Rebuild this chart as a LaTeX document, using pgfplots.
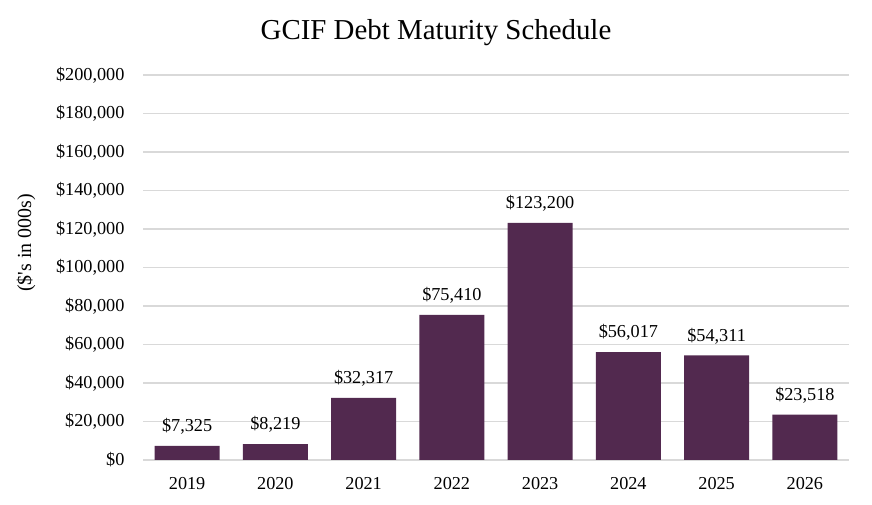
\documentclass[border=0pt]{standalone}
\usepackage{fontspec}
\setmainfont{Liberation Serif}
\usepackage{pgfplots}
\pgfplotsset{compat=1.18}
\definecolor{barc}{RGB}{82,41,79}
\definecolor{gridc}{RGB}{217,217,217}
\begin{document}
\begin{tikzpicture}
\path[use as bounding box] (0,0) rectangle (872bp,505bp);
\begin{axis}[
  at={(143bp,45bp)}, anchor=south west,
  scale only axis, width=706bp, height=385bp,
  ybar, bar width=65bp,
  xmin=-0.5, xmax=7.5, ymin=0, ymax=200000,
  ytick={0,20000,...,200000},
  yticklabels={{\$0},{\$20,000},{\$40,000},{\$60,000},{\$80,000},{\$100,000},{\$120,000},{\$140,000},{\$160,000},{\$180,000},{\$200,000}},
  xtick=data,
  xticklabels={2019,2020,2021,2022,2023,2024,2025,2026},
  axis line style={draw=none},
  major tick length=0pt,
  ymajorgrids, grid style={gridc, line width=1.3bp},
  scaled y ticks=false,
  ticklabel style={font=\fontsize{18.3}{21}\selectfont},
  xticklabel style={yshift=-14bp},
  yticklabel style={xshift=-15bp},
  point meta=explicit symbolic,
  nodes near coords,
  nodes near coords style={font=\fontsize{18.3}{21}\selectfont, yshift=8bp},
  ylabel={(\$\textquotesingle s in 000s)},
  ylabel style={font=\fontsize{20}{23}\selectfont, at={(-117bp,217bp)}, anchor=center},
]
\addplot[fill=barc, draw=none] coordinates {(0,7325) [\$7,325] (1,8219) [\$8,219] (2,32317) [\$32,317] (3,75410) [\$75,410] (4,123200) [\$123,200] (5,56017) [\$56,017] (6,54311) [\$54,311] (7,23518) [\$23,518]};
\end{axis}
\node[font=\fontsize{29}{33}\selectfont] at (436bp,472bp) {GCIF Debt Maturity Schedule};
\end{tikzpicture}
\end{document}
